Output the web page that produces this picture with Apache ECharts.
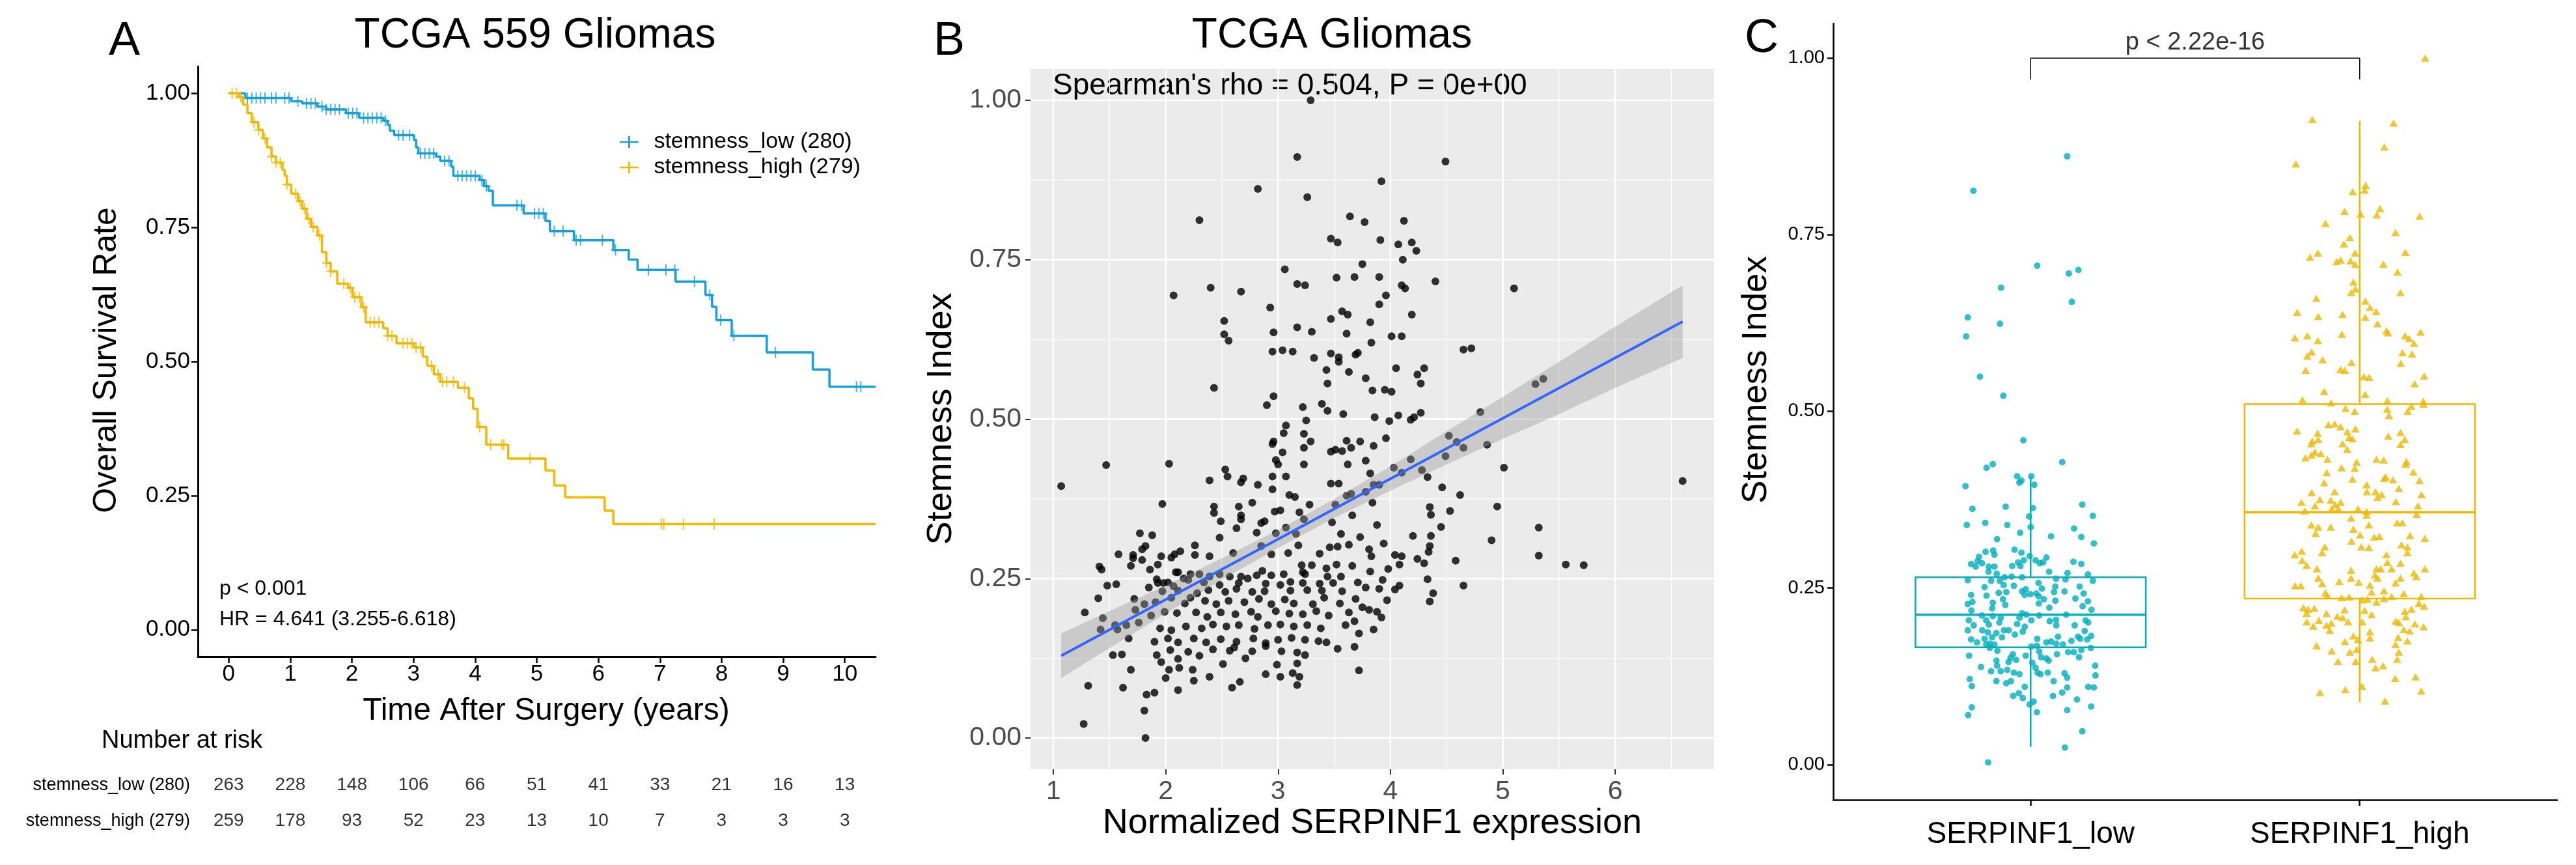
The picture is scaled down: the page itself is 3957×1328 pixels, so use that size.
<!DOCTYPE html>
<html>
<head>
<meta charset="utf-8">
<script src="https://cdn.jsdelivr.net/npm/echarts@6/dist/echarts.min.js"></script>
<style>
html, body { margin: 0; padding: 0; background: #fff; }
#main { width: 3957px; height: 1328px; }
</style>
</head>
<body>
<div id="main"></div>
<script>
// ---- panel A : Kaplan-Meier ----
var lowName = 'stemness_low (280)';
var highName = 'stemness_high (279)';
var lowT = [0, 0.27, 1.015, 1.193, 1.442, 1.584, 1.904, 2.118, 2.509, 2.580, 2.616, 2.687, 3.007, 3.042, 3.078, 3.363, 3.434, 3.612, 3.647, 4.074, 4.145, 4.217, 4.288, 4.786, 5.142, 5.213, 5.604, 6.244, 6.493, 6.635, 7.254, 7.738, 7.845, 7.916, 8.165, 8.734, 9.481, 9.751];
var lowS = [1, 0.991, 0.985, 0.981, 0.975, 0.970, 0.963, 0.954, 0.949, 0.941, 0.930, 0.922, 0.913, 0.899, 0.888, 0.882, 0.874, 0.863, 0.846, 0.838, 0.827, 0.818, 0.791, 0.776, 0.762, 0.743, 0.726, 0.708, 0.690, 0.671, 0.649, 0.624, 0.602, 0.577, 0.548, 0.517, 0.485, 0.453];
var highT = [0, 0.162, 0.233, 0.304, 0.375, 0.482, 0.553, 0.624, 0.695, 0.766, 0.873, 0.909, 0.944, 1.015, 1.122, 1.193, 1.264, 1.335, 1.442, 1.514, 1.584, 1.655, 1.762, 1.940, 2.011, 2.153, 2.224, 2.509, 2.580, 2.723, 3.007, 3.149, 3.221, 3.328, 3.434, 3.719, 3.896, 3.967, 4.039, 4.181, 4.537, 5.142, 5.284, 5.462, 6.102, 6.244];
var highS = [1, 0.993, 0.979, 0.963, 0.946, 0.932, 0.916, 0.899, 0.882, 0.871, 0.857, 0.846, 0.830, 0.813, 0.799, 0.785, 0.766, 0.751, 0.735, 0.704, 0.684, 0.668, 0.645, 0.637, 0.620, 0.601, 0.573, 0.562, 0.548, 0.534, 0.526, 0.509, 0.492, 0.476, 0.462, 0.451, 0.431, 0.412, 0.378, 0.345, 0.319, 0.297, 0.269, 0.247, 0.222, 0.197];
var lowCens = [0.304, 0.375, 0.446, 0.517, 0.589, 0.695, 0.766, 0.909, 0.980, 1.122, 1.264, 1.335, 1.407, 1.514, 1.584, 1.655, 1.726, 1.798, 1.940, 2.011, 2.082, 2.189, 2.260, 2.331, 2.403, 2.474, 2.545, 2.758, 2.830, 2.936, 3.114, 3.185, 3.256, 3.328, 3.505, 3.576, 3.719, 3.790, 3.861, 3.932, 4.003, 4.110, 4.181, 4.679, 4.750, 4.963, 5.035, 5.106, 5.284, 5.427, 5.640, 5.711, 6.066, 6.279, 6.813, 7.097, 7.240, 7.560, 7.809, 7.986, 8.200, 8.876, 10.19, 10.26];
var highCens = [0.055, 0.126, 0.197, 0.410, 0.482, 0.589, 0.695, 0.766, 0.837, 0.944, 1.087, 1.158, 1.229, 1.300, 1.371, 1.478, 1.584, 1.655, 1.869, 1.976, 2.046, 2.118, 2.189, 2.296, 2.367, 2.438, 2.580, 2.651, 2.830, 2.900, 2.971, 3.042, 3.114, 3.292, 3.399, 3.470, 3.540, 3.647, 3.826, 4.074, 4.252, 4.430, 4.465, 4.892, 7.026, 7.062, 7.381, 7.880];
var riskTimes = [0, 1, 2, 3, 4, 5, 6, 7, 8, 9, 10];
var riskLow = [263, 228, 148, 106, 66, 51, 41, 33, 21, 16, 13];
var riskHigh = [259, 178, 93, 52, 23, 13, 10, 7, 3, 3, 3];
var survTicks = [0, 0.25, 0.5, 0.75, 1];

// ---- panel B : scatter ----
var bPts = [
[3.29,1.0],[3.17,0.911],[4.49,0.904],[2.82,0.861],[3.92,0.873],[3.26,0.848],[2.30,0.812],[3.64,0.818],[3.77,0.809],[4.12,0.811],
[3.47,0.783],[3.53,0.777],[3.91,0.781],[4.07,0.774],[4.19,0.777],[4.23,0.764],[4.11,0.750],[3.75,0.743],[3.06,0.735],[3.52,0.722],
[3.68,0.723],[3.90,0.723],[4.40,0.716],[5.10,0.705],[2.07,0.694],[2.40,0.706],[2.67,0.700],[3.17,0.712],[3.24,0.710],[4.10,0.710],
[4.13,0.705],[3.96,0.694],[3.90,0.680],[2.93,0.675],[4.19,0.664],[3.57,0.669],[3.62,0.664],[3.47,0.657],[2.52,0.654],[3.82,0.652],
[3.17,0.644],[2.96,0.636],[3.30,0.637],[2.52,0.633],[2.56,0.623],[3.61,0.634],[4.01,0.630],[4.10,0.630],[3.83,0.620],[2.95,0.606],
[3.04,0.608],[3.13,0.606],[3.47,0.603],[3.54,0.597],[3.54,0.590],[3.32,0.596],[3.71,0.604],[3.69,0.601],[4.65,0.609],[4.72,0.611],
[3.43,0.577],[3.63,0.574],[4.05,0.580],[4.30,0.580],[4.24,0.570],[3.78,0.564],[4.27,0.556],[5.29,0.555],[5.36,0.563],[3.44,0.556],
[2.43,0.549],[3.84,0.545],[3.95,0.546],[4.01,0.543],[3.39,0.524],[2.96,0.536],[2.90,0.522],[3.22,0.519],[3.44,0.513],[3.58,0.508],
[3.25,0.498],[3.86,0.503],[4.07,0.506],[4.27,0.510],[4.18,0.499],[4.21,0.503],[3.99,0.497],[4.80,0.511],[3.07,0.490],[3.05,0.478],
[3.23,0.477],[3.96,0.470],[4.52,0.474],[2.96,0.465],[2.95,0.461],[3.29,0.465],[3.61,0.466],[3.73,0.465],[4.59,0.464],[4.86,0.460],
[3.04,0.448],[3.23,0.455],[3.51,0.452],[3.47,0.449],[3.57,0.450],[3.65,0.455],[3.85,0.458],[4.65,0.455],[4.49,0.442],[2.98,0.436],
[3.62,0.429],[3.78,0.435],[4.18,0.437],[3.23,0.429],[1.47,0.428],[2.03,0.430],[3.00,0.429],[4.03,0.424],[4.10,0.416],[4.28,0.420],
[5.01,0.424],[2.53,0.421],[2.55,0.410],[2.95,0.410],[3.07,0.410],[3.82,0.415],[4.33,0.409],[2.39,0.404],[2.69,0.407],[2.67,0.401],
[2.82,0.397],[3.47,0.399],[3.54,0.399],[3.85,0.397],[3.90,0.397],[6.60,0.403],[1.07,0.395],[4.46,0.393],[2.95,0.390],[3.10,0.381],
[3.15,0.378],[3.61,0.380],[3.65,0.383],[3.78,0.386],[4.62,0.381],[2.77,0.369],[1.97,0.367],[2.65,0.363],[2.43,0.363],[3.02,0.357],
[2.97,0.355],[3.19,0.354],[3.28,0.366],[3.51,0.366],[3.84,0.369],[4.35,0.362],[4.95,0.363],[4.53,0.356],[2.43,0.353],[2.67,0.349],
[3.66,0.349],[4.36,0.350],[2.67,0.343],[2.49,0.340],[2.85,0.337],[2.88,0.340],[3.23,0.343],[3.48,0.338],[3.88,0.334],[4.45,0.331],
[5.32,0.330],[2.63,0.329],[3.07,0.330],[3.16,0.320],[3.56,0.320],[2.81,0.322],[1.77,0.321],[1.88,0.318],[2.98,0.321],[4.20,0.317],
[4.36,0.317],[2.48,0.314],[3.73,0.315],[4.90,0.310],[3.94,0.305],[1.82,0.301],[2.26,0.302],[2.85,0.301],[3.18,0.302],[3.63,0.303],
[1.79,0.296],[1.71,0.287],[1.58,0.288],[4.34,0.292],[4.35,0.301],[3.81,0.296],[2.08,0.288],[2.13,0.293],[1.96,0.285],[2.05,0.283],
[2.39,0.285],[2.26,0.287],[2.60,0.290],[2.94,0.288],[3.09,0.290],[3.37,0.289],[3.46,0.299],[3.53,0.300],[4.04,0.287],[4.10,0.285],
[3.83,0.285],[5.32,0.286],[1.71,0.282],[1.79,0.279],[4.24,0.281],[4.30,0.274],[4.58,0.278],[5.56,0.272],[5.72,0.271],[1.41,0.269],
[1.69,0.270],[1.43,0.264],[1.93,0.272],[1.86,0.264],[2.11,0.260],[2.22,0.257],[2.09,0.260],[2.30,0.257],[2.39,0.253],[2.48,0.257],
[2.57,0.253],[2.67,0.253],[2.81,0.255],[2.86,0.262],[2.94,0.255],[3.05,0.257],[3.21,0.271],[3.22,0.260],[3.30,0.271],[3.24,0.257],
[3.43,0.266],[3.52,0.272],[3.66,0.270],[3.82,0.261],[3.98,0.265],[4.08,0.272],[3.56,0.253],[3.44,0.253],[4.33,0.249],[1.92,0.249],
[1.93,0.243],[1.98,0.243],[2.02,0.244],[2.07,0.238],[2.16,0.250],[2.20,0.248],[1.48,0.239],[1.56,0.241],[2.34,0.244],[2.48,0.240],
[2.65,0.243],[2.73,0.250],[2.89,0.242],[3.02,0.240],[3.11,0.245],[3.22,0.243],[3.37,0.242],[3.49,0.243],[3.71,0.244],[3.93,0.248],
[4.08,0.239],[4.65,0.239],[4.38,0.227],[4.35,0.214],[1.85,0.236],[1.97,0.230],[2.11,0.231],[2.28,0.227],[2.38,0.232],[2.53,0.229],
[2.63,0.234],[2.77,0.229],[2.88,0.230],[3.11,0.231],[3.26,0.232],[3.39,0.231],[3.57,0.230],[3.78,0.236],[3.90,0.234],[4.04,0.233],
[1.40,0.219],[1.72,0.218],[1.81,0.210],[1.91,0.213],[2.05,0.220],[2.17,0.211],[2.22,0.220],[2.35,0.215],[2.45,0.210],[2.56,0.215],
[2.70,0.213],[2.83,0.218],[2.94,0.210],[3.06,0.217],[3.14,0.211],[3.31,0.210],[3.41,0.220],[3.55,0.211],[3.69,0.218],[3.75,0.205],
[3.81,0.201],[3.88,0.198],[3.97,0.216],[1.28,0.197],[1.73,0.201],[1.87,0.192],[1.99,0.198],[2.10,0.196],[2.27,0.197],[2.37,0.190],
[2.49,0.197],[2.62,0.194],[2.76,0.198],[2.82,0.190],[2.98,0.199],[3.10,0.195],[3.22,0.194],[3.34,0.199],[3.45,0.192],[3.63,0.197],
[3.92,0.189],[1.44,0.188],[1.55,0.177],[1.65,0.177],[1.76,0.181],[1.57,0.170],[1.42,0.170],[1.95,0.172],[2.05,0.169],[2.18,0.175],
[2.32,0.172],[2.42,0.178],[2.54,0.175],[2.65,0.177],[2.79,0.171],[2.91,0.177],[3.02,0.178],[3.14,0.175],[3.26,0.177],[3.38,0.172],
[3.60,0.177],[3.68,0.183],[3.72,0.164],[3.85,0.170],[1.67,0.156],[1.90,0.151],[2.02,0.156],[2.11,0.150],[2.25,0.156],[2.36,0.150],
[2.49,0.155],[2.63,0.151],[2.78,0.156],[2.89,0.149],[3.00,0.154],[3.12,0.157],[3.24,0.154],[3.36,0.152],[3.43,0.150],[1.53,0.130],
[1.61,0.131],[1.92,0.130],[2.04,0.138],[2.20,0.135],[2.30,0.129],[2.42,0.139],[2.57,0.137],[2.61,0.142],[2.77,0.136],[2.89,0.144],
[3.03,0.136],[3.17,0.134],[3.24,0.130],[3.53,0.140],[3.68,0.143],[1.96,0.119],[2.11,0.124],[2.03,0.107],[2.12,0.110],[2.24,0.107],
[2.39,0.096],[2.51,0.116],[2.71,0.125],[2.89,0.100],[2.99,0.115],[3.02,0.096],[3.13,0.102],[3.17,0.117],[3.19,0.096],[3.17,0.083],
[3.72,0.106],[1.69,0.107],[2.00,0.094],[2.25,0.090],[2.59,0.079],[2.66,0.088],[2.11,0.075],[1.62,0.079],[1.31,0.082],[1.90,0.071],
[1.83,0.068],[1.81,0.043],[1.27,0.022],[1.82,0.000]
];
var bFitX = [1.07, 6.6];
var bFitY = [0.129, 0.653];
var bBandX = [1.07, 1.5, 2, 2.5, 3, 3.5, 4, 4.5, 5, 5.5, 6, 6.6];
var bBandLo = [0.094, 0.141, 0.195, 0.248, 0.298, 0.345, 0.388, 0.429, 0.469, 0.508, 0.549, 0.596];
var bBandHi = [0.164, 0.199, 0.239, 0.282, 0.326, 0.375, 0.426, 0.481, 0.535, 0.590, 0.645, 0.710];
var bXTicks = [1, 2, 3, 4, 5, 6];
var bXMinor = [1.5, 2.5, 3.5, 4.5, 5.5, 6.5];
var bYTicks = [0, 0.25, 0.5, 0.75, 1];
var bYMinor = [0.125, 0.375, 0.625, 0.875];

// ---- panel C : box + jitter ----
var cCats = ['SERPINF1_low', 'SERPINF1_high'];
// [category, lower whisker, Q1, median, Q3, upper whisker]
var cBoxLow = [1, 0.025, 0.166, 0.212, 0.265, 0.408];
var cBoxHigh = [2, 0.088, 0.235, 0.357, 0.510, 0.911];
var cLowPts = [
[1.111,0.861],[0.826,0.812],[1.020,0.706],[1.116,0.695],[1.145,0.700],[0.910,0.675],[1.125,0.655],[0.809,0.633],[0.907,0.624],[0.804,0.606],[0.846,0.549],[0.917,0.522],
[0.978,0.459],[1.096,0.428],[0.866,0.420],[0.885,0.425],[0.959,0.408],[0.972,0.402],[0.966,0.399],[1.002,0.408],[1.011,0.396],[0.802,0.394],
[0.823,0.362],[0.924,0.365],[1.007,0.363],[0.995,0.351],[1.157,0.368],[1.189,0.352],[0.806,0.339],[0.862,0.342],[0.929,0.339],[1.000,0.336],
[0.968,0.328],[1.132,0.334],[1.062,0.323],[1.154,0.322],[0.898,0.319],[1.192,0.313],[0.863,0.301],[0.886,0.303],[0.890,0.297],[0.951,0.304],
[0.972,0.300],[0.843,0.294],[0.839,0.288],[0.852,0.285],[0.819,0.284],[0.833,0.280],[0.873,0.280],[0.890,0.280],[0.872,0.273],[0.944,0.281],
[0.962,0.286],[0.979,0.289],[0.969,0.281],[0.997,0.295],[1.015,0.289],[1.028,0.285],[1.048,0.293],[1.038,0.286],[1.056,0.273],[1.130,0.287],
[1.154,0.284],[1.112,0.271],[1.174,0.269],[0.897,0.270],[0.921,0.265],[0.942,0.266],[0.974,0.265],[0.809,0.261],[0.880,0.260],[0.906,0.260],
[0.918,0.254],[0.949,0.253],[1.077,0.263],[1.106,0.262],[1.189,0.260],[1.024,0.257],[1.034,0.249],[0.860,0.251],[0.866,0.239],[0.819,0.240],
[0.903,0.243],[0.926,0.244],[0.916,0.234],[0.974,0.245],[0.985,0.248],[0.982,0.240],[0.999,0.241],[1.017,0.242],[1.025,0.238],[1.040,0.234],
[1.075,0.252],[1.071,0.244],[1.103,0.245],[1.149,0.252],[1.161,0.242],[1.136,0.235],[1.025,0.228],[1.057,0.222],[1.075,0.232],[0.885,0.229],
[0.883,0.221],[0.809,0.227],[0.823,0.230],[0.820,0.218],[0.923,0.226],[1.158,0.224],[1.174,0.231],[1.185,0.219],[0.852,0.211],[0.885,0.210],
[0.909,0.208],[0.974,0.214],[0.966,0.208],[0.987,0.212],[1.002,0.204],[1.026,0.211],[1.058,0.203],[1.077,0.205],[1.078,0.197],[1.108,0.212],
[1.167,0.204],[1.175,0.201],[0.812,0.204],[0.827,0.197],[0.865,0.204],[0.873,0.198],[0.905,0.201],[0.959,0.199],[0.982,0.195],[0.976,0.188],
[0.809,0.190],[0.853,0.190],[0.870,0.187],[0.883,0.180],[0.896,0.186],[0.919,0.190],[0.933,0.190],[0.913,0.180],[0.952,0.184],[1.164,0.189],
[1.134,0.197],[0.819,0.177],[0.837,0.173],[0.860,0.178],[0.865,0.170],[0.876,0.171],[0.890,0.170],[0.899,0.161],[0.876,0.165],[1.020,0.178],
[1.002,0.167],[1.019,0.168],[1.048,0.173],[1.062,0.174],[1.083,0.181],[1.078,0.171],[1.098,0.170],[1.124,0.175],[1.151,0.178],[1.144,0.181],
[1.172,0.177],[1.184,0.182],[1.183,0.165],[1.154,0.162],[1.114,0.159],[1.131,0.159],[1.147,0.152],[1.026,0.160],[1.032,0.152],[1.048,0.150],
[1.055,0.147],[1.080,0.156],[0.985,0.154],[0.946,0.156],[0.939,0.151],[0.956,0.148],[0.933,0.145],[0.813,0.154],[0.849,0.138],[0.896,0.147],
[0.898,0.140],[0.880,0.132],[0.909,0.132],[0.929,0.134],[0.949,0.130],[0.966,0.128],[1.005,0.144],[1.015,0.137],[1.021,0.130],[1.030,0.128],
[1.052,0.130],[1.103,0.129],[1.111,0.123],[1.196,0.140],[1.197,0.126],[0.815,0.121],[0.821,0.111],[0.896,0.118],[0.926,0.115],[0.940,0.118],
[0.982,0.110],[1.070,0.118],[1.096,0.102],[1.111,0.109],[1.175,0.110],[1.192,0.109],[0.947,0.097],[0.964,0.101],[0.976,0.094],[1.068,0.097],
[1.141,0.092],[0.997,0.085],[1.009,0.089],[1.019,0.074],[0.821,0.081],[0.810,0.070],[1.111,0.077],[1.184,0.082],[1.157,0.047],[1.104,0.024],
[0.871,0.003]
];
var cHighPts = [
[2.199,1.0],
[1.856,0.913],[2.103,0.908],[2.075,0.874],[1.806,0.850],[2.018,0.820],[2.015,0.813],[1.979,0.811],[1.954,0.783],[2.003,0.779],[2.062,0.787],
[2.052,0.778],[2.182,0.776],[1.896,0.766],[2.109,0.753],[1.970,0.746],[1.952,0.737],[2.139,0.725],[1.873,0.724],[1.849,0.718],[1.986,0.724],
[1.930,0.712],[1.942,0.714],[1.972,0.713],[1.986,0.708],[2.072,0.708],[2.115,0.697],[1.981,0.683],[1.987,0.673],[1.974,0.668],[2.124,0.668],
[1.868,0.660],[2.017,0.656],[2.031,0.647],[2.050,0.641],[1.810,0.640],[1.874,0.634],[1.948,0.637],[2.017,0.633],[2.054,0.624],[2.081,0.614],
[2.086,0.611],[2.185,0.612],[1.803,0.604],[1.841,0.607],[1.873,0.600],[1.946,0.609],[2.138,0.607],[2.150,0.603],[2.165,0.596],[1.854,0.584],
[1.841,0.578],[1.887,0.573],[2.130,0.583],[2.159,0.581],[1.975,0.569],[2.125,0.568],[1.836,0.558],[1.942,0.559],[1.955,0.558],[2.013,0.549],
[2.029,0.548],[2.196,0.550],[2.167,0.539],[1.892,0.528],[2.017,0.524],[1.826,0.516],[1.913,0.512],[2.084,0.515],[2.193,0.514],[2.194,0.510],
[1.957,0.504],[1.985,0.500],[2.084,0.503],[2.089,0.494],[2.146,0.500],[2.157,0.507],
[1.810,0.472],[1.905,0.481],[1.924,0.482],[1.942,0.478],[1.987,0.475],[1.962,0.471],[1.968,0.463],[1.978,0.461],[1.872,0.469],[1.856,0.458],
[1.874,0.460],[1.853,0.454],[1.948,0.454],[1.962,0.446],[2.087,0.465],[2.124,0.470],[2.137,0.460],[2.124,0.453],[1.835,0.434],[1.864,0.442],
[1.853,0.438],[1.882,0.440],[1.902,0.432],[1.991,0.428],[1.985,0.419],[1.945,0.420],[2.051,0.432],[2.073,0.431],[2.142,0.429],[2.140,0.425],
[2.163,0.414],[1.900,0.413],[2.079,0.407],[2.074,0.405],[2.101,0.403],[2.182,0.402],[1.978,0.404],[1.892,0.399],[2.119,0.391],[2.021,0.396],
[2.022,0.386],[2.048,0.386],[2.067,0.382],[2.054,0.378],[2.188,0.382],[1.854,0.385],[1.924,0.386],[1.823,0.371],[1.879,0.375],[1.912,0.374],
[1.864,0.366],[1.925,0.368],[1.942,0.371],[2.110,0.372],[2.177,0.366],[1.833,0.359],[1.915,0.362],[1.935,0.362],[1.995,0.362],[2.021,0.358],
[2.021,0.353],[2.173,0.354],[1.974,0.349],[2.028,0.339],[1.853,0.339],[1.874,0.336],[1.912,0.336],[1.866,0.327],[1.981,0.333],[2.001,0.325],
[2.114,0.342],[2.130,0.342],[2.044,0.322],[2.060,0.323],[2.153,0.324],[2.198,0.320],[1.975,0.316],[1.894,0.308],[1.886,0.300],[1.824,0.302],
[1.803,0.297],[2.005,0.308],[2.028,0.307],[2.127,0.311],[2.145,0.308],[2.145,0.300],[1.825,0.289],[1.839,0.282],[2.081,0.297],[2.084,0.286],
[2.097,0.277],[2.051,0.277],[2.064,0.277],[2.124,0.285],[1.870,0.277],[1.974,0.275],[2.046,0.268],[2.054,0.264],[2.165,0.271],[2.172,0.266],
[2.198,0.277],[1.874,0.264],[1.886,0.256],[1.938,0.259],[1.974,0.264],[1.997,0.258],[2.031,0.254],[1.804,0.253],[1.821,0.253],[2.109,0.257],
[2.124,0.264],[1.902,0.239],[2.074,0.246],[2.036,0.244],[2.134,0.242],[1.896,0.243],[1.945,0.236],[1.968,0.237],[2.008,0.233],[2.024,0.234],
[2.051,0.230],[2.074,0.235],[2.097,0.238],[2.187,0.238],[1.829,0.222],[1.843,0.220],[1.862,0.221],[1.839,0.214],[1.899,0.214],[1.954,0.219],
[1.932,0.210],[1.948,0.208],[1.965,0.202],[2.015,0.218],[2.036,0.212],[2.137,0.217],[2.157,0.220],[2.180,0.228],[2.196,0.224],[1.839,0.202],
[1.859,0.196],[1.876,0.204],[1.899,0.197],[1.909,0.190],[1.914,0.200],[2.008,0.202],[2.110,0.203],[2.119,0.201],[2.140,0.209],[2.168,0.199],
[2.194,0.195],[2.134,0.191],[2.152,0.189],[1.981,0.182],[1.995,0.177],[2.031,0.188],[2.031,0.179],[2.117,0.180],[1.955,0.174],[1.869,0.168],
[1.915,0.161],[1.970,0.159],[1.991,0.163],[2.109,0.170],[2.119,0.159],[2.145,0.175],[1.934,0.146],[1.988,0.146],[2.038,0.149],[2.048,0.137],
[2.071,0.140],[2.114,0.149],[2.108,0.122],[2.170,0.124],[2.007,0.111],[1.879,0.102],[1.956,0.106],[2.187,0.104],[2.077,0.090]
];
var cBracket = [[1, 0.97], [1, 1.0], [2, 1.0], [2, 0.97]];
var cPText = 'p < 2.22e-16';

var FONT = 'Liberation Sans, Arial, Helvetica, sans-serif';
var BLUE = '#15A0DC';
var GOLD = '#F4B800';
var TEAL = '#00AFBB';
var CGOLD = '#EDB800';

function stepValue(ts, ss, t) {
    var v = ss[0];
    for (var i = 0; i < ts.length; i++) {
        if (ts[i] <= t) v = ss[i];
    }
    return v;
}
function kmLine(ts, ss) {
    var out = [];
    for (var i = 0; i < ts.length; i++) out.push([ts[i], ss[i]]);
    out.push([10.5, ss[ss.length - 1]]);
    return out;
}
function censPts(cens, ts, ss) {
    return cens.map(function (t) { return [t, stepValue(ts, ss, t)]; });
}
function riskData(counts, row) {
    return riskTimes.map(function (t, i) { return [t, row, counts[i]]; });
}
function txt(text, x, y, size, opts) {
    opts = opts || {};
    return {
        type: 'text', x: x, y: y, rotation: opts.rot || 0, silent: true,
        style: {
            text: text, fontSize: size, fontFamily: FONT, fill: opts.color || '#000',
            align: opts.align || 'center', verticalAlign: 'middle'
        }
    };
}

var crossPath = 'path://M0,8.5H20V11.5H0Z M8.5,0H11.5V20H8.5Z';
var legendPath = 'path://M0,8.5H32V11.5H0Z M14.5,0H17.5V20H14.5Z';

var gridLineData = [];
bXTicks.forEach(function (v) { gridLineData.push([0, v, 2.6]); });
bXMinor.forEach(function (v) { gridLineData.push([0, v, 1.2]); });
bYTicks.forEach(function (v) { gridLineData.push([1, v, 2.6]); });
bYMinor.forEach(function (v) { gridLineData.push([1, v, 1.2]); });

var bXRange = [0.797, 6.88];
var bYRange = [-0.049, 1.049];

var dom = document.getElementById('main');
var myChart = echarts.init(dom, null, { renderer: 'canvas', width: 3957, height: 1328 });

var blackAxis = { lineStyle: { color: '#000', width: 3 } };

var option = {
    animation: false,
    backgroundColor: '#fff',
    textStyle: { fontFamily: FONT },
    legend: {
        data: [lowName, highName],
        orient: 'vertical',
        left: 947, top: 196,
        itemWidth: 32, itemHeight: 18, itemGap: 5,
        icon: legendPath,
        textStyle: { fontSize: 34, color: '#000', lineHeight: 34, padding: [0, 0, 0, 17], fontFamily: FONT },
        selectedMode: false
    },
    grid: [
        { left: 304, right: 2612, top: 102, bottom: 320, outerBoundsMode: 'none' },
        { left: 304, right: 2612, top: 1178, height: 110, outerBoundsMode: 'none' },
        { left: 1583, right: 1324, top: 106, bottom: 147, show: true, backgroundColor: '#EBEBEB', borderWidth: 0, outerBoundsMode: 'none' },
        { left: 2816, right: 29, top: 36, bottom: 100, outerBoundsMode: 'none' }
    ],
    xAxis: [
        {
            gridIndex: 0, type: 'value', min: -0.5, max: 10.5,
            axisLine: { show: true, onZero: false, lineStyle: { color: '#000', width: 3 } },
            axisTick: { show: true, customValues: riskTimes, length: 10, lineStyle: { color: '#000', width: 2.5 } },
            axisLabel: { customValues: riskTimes, fontSize: 35, color: '#000', margin: 10 },
            splitLine: { show: false }
        },
        { gridIndex: 1, type: 'value', min: -0.5, max: 10.5, show: false },
        {
            gridIndex: 2, type: 'value', min: bXRange[0], max: bXRange[1],
            axisLine: { show: false, onZero: false },
            axisTick: { show: true, customValues: bXTicks, length: 8, lineStyle: { color: '#333', width: 2 } },
            axisLabel: { customValues: bXTicks, fontSize: 41, color: '#4D4D4D', margin: 14 },
            splitLine: { show: false }
        },
        {
            gridIndex: 3, type: 'value', min: 0.4, max: 2.6,
            axisLine: { show: true, onZero: false, lineStyle: { color: '#000', width: 2.5 } },
            axisTick: { show: true, customValues: [1, 2], length: 9, lineStyle: { color: '#000', width: 2.5 } },
            axisLabel: {
                customValues: [1, 2], fontSize: 46, color: '#000', margin: 30,
                formatter: function (v) { return cCats[Math.round(v) - 1]; }
            },
            splitLine: { show: false }
        }
    ],
    yAxis: [
        {
            gridIndex: 0, type: 'value', min: -0.05, max: 1.05,
            axisLine: { show: true, onZero: false, lineStyle: { color: '#000', width: 3 } },
            axisTick: { show: true, customValues: survTicks, length: 10, lineStyle: { color: '#000', width: 2.5 } },
            axisLabel: { customValues: survTicks, fontSize: 35, color: '#000', margin: 12, formatter: function (v) { return v.toFixed(2); } },
            splitLine: { show: false }
        },
        {
            gridIndex: 1, type: 'category', data: [lowName, highName], inverse: true,
            axisLine: { show: false }, axisTick: { show: false },
            axisLabel: { fontSize: 27, color: '#000', margin: 12 },
            splitLine: { show: false }
        },
        {
            gridIndex: 2, type: 'value', min: bYRange[0], max: bYRange[1],
            axisLine: { show: false, onZero: false },
            axisTick: { show: true, customValues: bYTicks, length: 8, lineStyle: { color: '#333', width: 2 } },
            axisLabel: { customValues: bYTicks, fontSize: 41, color: '#4D4D4D', margin: 14, formatter: function (v) { return v.toFixed(2); } },
            splitLine: { show: false }
        },
        {
            gridIndex: 3, type: 'value', min: -0.05, max: 1.049,
            axisLine: { show: true, onZero: false, lineStyle: { color: '#000', width: 2.5 } },
            axisTick: { show: true, customValues: survTicks, length: 9, lineStyle: { color: '#000', width: 2.5 } },
            axisLabel: { customValues: survTicks, fontSize: 29, color: '#000', margin: 13, formatter: function (v) { return v.toFixed(2); } },
            splitLine: { show: false }
        }
    ],
    series: [
        // A
        {
            name: lowName, type: 'line', xAxisIndex: 0, yAxisIndex: 0, step: 'end',
            data: kmLine(lowT, lowS), showSymbol: false, symbol: 'none',
            lineStyle: { color: BLUE, width: 3.5 }, itemStyle: { color: BLUE }, z: 3
        },
        {
            name: highName, type: 'line', xAxisIndex: 0, yAxisIndex: 0, step: 'end',
            data: kmLine(highT, highS), showSymbol: false, symbol: 'none',
            lineStyle: { color: GOLD, width: 3.5 }, itemStyle: { color: GOLD }, z: 3
        },
        {
            name: 'lowCens', type: 'scatter', xAxisIndex: 0, yAxisIndex: 0,
            data: censPts(lowCens, lowT, lowS), symbol: crossPath, symbolSize: [13, 17],
            itemStyle: { color: BLUE }, z: 4
        },
        {
            name: 'highCens', type: 'scatter', xAxisIndex: 0, yAxisIndex: 0,
            data: censPts(highCens, highT, highS), symbol: crossPath, symbolSize: [13, 17],
            itemStyle: { color: GOLD }, z: 4
        },
        {
            name: 'riskLow', type: 'scatter', xAxisIndex: 1, yAxisIndex: 1,
            data: riskData(riskLow, 0).concat(riskData(riskHigh, 1)),
            symbolSize: 1, itemStyle: { color: 'rgba(0,0,0,0)' },
            label: {
                show: true, position: 'inside', fontSize: 28, color: '#000', fontFamily: FONT,
                formatter: function (p) { return String(p.value[2]); }
            }
        },
        // B
        {
            name: 'bGrid', type: 'custom', xAxisIndex: 2, yAxisIndex: 2, silent: true, z: 1,
            data: gridLineData,
            renderItem: function (params, api) {
                var dir = api.value(0), v = api.value(1), w = api.value(2);
                var p1, p2;
                if (dir === 0) { p1 = api.coord([v, bYRange[0]]); p2 = api.coord([v, bYRange[1]]); }
                else { p1 = api.coord([bXRange[0], v]); p2 = api.coord([bXRange[1], v]); }
                return { type: 'line', shape: { x1: p1[0], y1: p1[1], x2: p2[0], y2: p2[1] }, style: { stroke: '#fff', lineWidth: w } };
            }
        },
        {
            name: 'bPts', type: 'scatter', xAxisIndex: 2, yAxisIndex: 2, data: bPts,
            symbolSize: 12, itemStyle: { color: '#000' }, z: 2
        },
        {
            name: 'bBand', type: 'custom', xAxisIndex: 2, yAxisIndex: 2, silent: true, z: 3,
            data: [[bBandX[0], bBandLo[0]]],
            renderItem: function (params, api) {
                var pts = [];
                for (var i = 0; i < bBandX.length; i++) pts.push(api.coord([bBandX[i], bBandHi[i]]));
                for (var j = bBandX.length - 1; j >= 0; j--) pts.push(api.coord([bBandX[j], bBandLo[j]]));
                return { type: 'polygon', shape: { points: pts }, style: { fill: 'rgba(153,153,153,0.4)' } };
            }
        },
        {
            name: 'bFit', type: 'line', xAxisIndex: 2, yAxisIndex: 2,
            data: [[bFitX[0], bFitY[0]], [bFitX[1], bFitY[1]]], showSymbol: false, symbol: 'none',
            lineStyle: { color: '#3366FF', width: 4 }, z: 4
        },
        // C
        {
            name: 'cBox', type: 'custom', xAxisIndex: 3, yAxisIndex: 3, silent: true, z: 2,
            data: [cBoxLow.concat([0]), cBoxHigh.concat([1])],
            renderItem: function (params, api) {
                var x = api.value(0), lo = api.value(1), q1 = api.value(2), md = api.value(3), q3 = api.value(4), hi = api.value(5);
                var col = api.value(6) === 0 ? TEAL : CGOLD;
                var half = 0.35;
                var tl = api.coord([x - half, q3]), br = api.coord([x + half, q1]);
                var ml = api.coord([x - half, md]), mr = api.coord([x + half, md]);
                var wLo = api.coord([x, lo]), wQ1 = api.coord([x, q1]), wQ3 = api.coord([x, q3]), wHi = api.coord([x, hi]);
                var st = { stroke: col, lineWidth: 2.5, fill: null };
                return {
                    type: 'group', children: [
                        { type: 'line', shape: { x1: wLo[0], y1: wLo[1], x2: wQ1[0], y2: wQ1[1] }, style: st },
                        { type: 'line', shape: { x1: wQ3[0], y1: wQ3[1], x2: wHi[0], y2: wHi[1] }, style: st },
                        { type: 'rect', shape: { x: tl[0], y: tl[1], width: br[0] - tl[0], height: br[1] - tl[1] }, style: st },
                        { type: 'line', shape: { x1: ml[0], y1: ml[1], x2: mr[0], y2: mr[1] }, style: { stroke: col, lineWidth: 3.5 } }
                    ]
                };
            }
        },
        {
            name: 'cLow', type: 'scatter', xAxisIndex: 3, yAxisIndex: 3, data: cLowPts,
            symbol: 'circle', symbolSize: 10, itemStyle: { color: TEAL }, z: 3
        },
        {
            name: 'cHigh', type: 'scatter', xAxisIndex: 3, yAxisIndex: 3, data: cHighPts,
            symbol: 'triangle', symbolSize: [13, 11], itemStyle: { color: CGOLD }, z: 3
        },
        {
            name: 'cBracket', type: 'line', xAxisIndex: 3, yAxisIndex: 3, data: cBracket,
            showSymbol: false, symbol: 'none', lineStyle: { color: '#000', width: 1.5 }, z: 4
        },
        {
            name: 'cP', type: 'scatter', xAxisIndex: 3, yAxisIndex: 3, data: [[1.5, 1.0]],
            symbolSize: 1, itemStyle: { color: 'rgba(0,0,0,0)' },
            label: { show: true, position: 'top', distance: 4, fontSize: 38, color: '#000', fontFamily: FONT, formatter: cPText }
        }
    ],
    graphic: [
        txt('A', 191, 64, 72),
        txt('TCGA 559 Gliomas', 822, 55, 64),
        txt('Overall Survival Rate', 164, 553, 50, { rot: Math.PI / 2 }),
        txt('Time After Surgery (years)', 839, 1092, 48),
        txt('Number at risk', 156, 1138, 38, { align: 'left' }),
        txt('p < 0.001', 337, 904, 32, { align: 'left' }),
        txt('HR = 4.641 (3.255-6.618)', 337, 951, 32, { align: 'left' }),
        txt('B', 1458, 64, 72),
        txt('TCGA Gliomas', 2046, 55, 64),
        txt("Spearman's rho = 0.504, P = 0e+00", 1617, 132, 46, { align: 'left' }),
        txt('Stemness Index', 1446, 643, 54, { rot: Math.PI / 2 }),
        txt('Normalized SERPINF1 expression', 2108, 1264, 54),
        txt('C', 2706, 60, 72),
        txt('Stemness Index', 2698, 583, 53, { rot: Math.PI / 2 })
    ]
};

myChart.setOption(option);
</script>
</body>
</html>
